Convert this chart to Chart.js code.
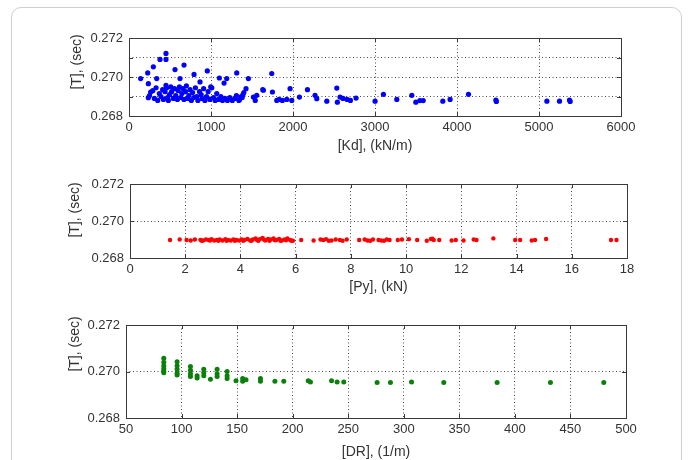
<!DOCTYPE html>
<html>
<head>
<meta charset="utf-8">
<title>Natural period versus damper parameters</title>
<script src="https://cdn.jsdelivr.net/npm/chart.js@4.4.1/dist/chart.umd.min.js"></script>
<style>
  html, body { margin: 0; padding: 0; background: #fff; }
  #wrap { position: relative; width: 693px; height: 460px; overflow: hidden; background: #fff; }
  #frame { position: absolute; left: 11px; top: 7px; width: 671px; height: 490px;
           border: 1px solid #cfcfcf; border-radius: 10px; box-sizing: border-box; }
  canvas { position: absolute; left: 0; }
</style>
</head>
<body>
<div id="wrap">
  <div id="frame"></div>
  <canvas id="kdChart" width="693" height="160" style="top:0px"></canvas>
  <canvas id="pyChart" width="693" height="140" style="top:160px"></canvas>
  <canvas id="drChart" width="693" height="160" style="top:300px"></canvas>
</div>
<script>
// Damper stiffness Kd (kN/m) and the resulting period T (sec)
const kdValues = [
  142, 228, 236, 236, 264, 297, 338, 378, 451, 451, 451, 561, 622, 671, 793, 866, 955, 997,
  1102, 1159, 1192, 1314, 1456, 1427, 1631, 1741, 1749, 1964, 2176, 2534,
  250, 290, 310, 330, 350, 370, 390, 410, 420, 440, 460, 470, 480, 495, 510, 520, 540, 555,
  570, 590, 600, 615, 630, 645, 660, 670, 690, 700, 715, 730, 745, 760, 775, 790, 810, 825,
  840, 860, 880, 890, 910, 925, 945, 965, 985, 1010, 1030, 1050, 1070, 1090, 1120, 1140,
  1170, 1200, 1230, 1260, 1290, 1310, 1340, 1380, 1400, 1350, 1370, 1390,
  1517, 1558, 1540, 1639, 1802, 1830, 1870, 1924, 1985, 2078, 2269, 2290, 2412, 2541,
  2574, 2610, 2660, 2700, 2769,
  3001, 3103, 3266, 3449, 3498, 3547, 3588, 3827, 3916, 4140, 4474, 4480, 5096, 5250, 5372, 5380
];
const kdPeriod = [
  0.26992, 0.27021, 0.26966, 0.26894, 0.26923, 0.27052, 0.26992, 0.27090, 0.27090, 0.27121,
  0.26957, 0.27038, 0.26992, 0.27061, 0.27013, 0.26975, 0.27031, 0.26949,
  0.26995, 0.26969, 0.26992, 0.27021, 0.26992, 0.26940, 0.26935, 0.27018, 0.26923, 0.26940,
  0.26935, 0.26943,
  0.26905, 0.26930, 0.26890, 0.26945, 0.26880, 0.26915, 0.26900, 0.26935, 0.26885, 0.26925,
  0.26945, 0.26895, 0.26880, 0.26910, 0.26950, 0.26925, 0.26890, 0.26940,
  0.26905, 0.26885, 0.26930, 0.26950, 0.26895, 0.26915, 0.26940, 0.26885, 0.26925, 0.26955,
  0.26890, 0.26905, 0.26935, 0.26880, 0.26920, 0.26895, 0.26945, 0.26900,
  0.26880, 0.26925, 0.26910, 0.26890, 0.26940, 0.26880, 0.26900, 0.26925, 0.26885, 0.26945,
  0.26895, 0.26880, 0.26915, 0.26885, 0.26900, 0.26880,
  0.26890, 0.26880, 0.26895, 0.26880, 0.26890, 0.26905, 0.26880, 0.26895, 0.26920, 0.26885,
  0.26900, 0.26910,
  0.26897, 0.26906, 0.26880, 0.26932, 0.26880, 0.26885, 0.26880, 0.26885, 0.26880, 0.26897,
  0.26906, 0.26889, 0.26876, 0.26871,
  0.26897, 0.26890, 0.26885, 0.26880, 0.26892,
  0.26876, 0.26911, 0.26885, 0.26906, 0.26871, 0.26879, 0.26879, 0.26876, 0.26885, 0.26911,
  0.26882, 0.26875, 0.26876, 0.26876, 0.26882, 0.26875
];

// Yield force Py (kN) and period T (sec)
const pyValues = [
  1.45, 1.80, 2.05, 2.20, 2.35, 2.55, 2.65, 2.75, 2.85, 2.95, 3.05, 3.15, 3.25, 3.35, 3.45,
  3.55, 3.65, 3.75, 3.85, 3.95, 4.05, 4.15, 4.25, 4.35, 4.45, 4.55, 4.60, 4.70, 4.80, 4.90,
  5.00, 5.10, 5.20, 5.30, 5.40, 5.50, 5.60, 5.70, 5.80, 5.90, 6.20, 6.65, 6.90, 7.00, 7.10,
  7.30, 7.45, 7.60, 7.85, 8.30, 8.50, 8.60, 8.80, 9.00, 9.10, 9.30, 9.40, 9.70, 9.85, 10.10,
  10.40, 10.75, 10.90, 11.00, 11.20, 11.65, 11.80, 12.08, 12.45, 12.55, 13.16, 13.95, 14.13,
  14.55, 14.67, 15.07, 17.42, 17.62,
  2.60, 2.90, 3.20, 3.50, 3.80, 4.10, 4.40, 4.65, 4.85, 5.05, 5.25, 5.45, 5.65, 5.85, 7.20,
  7.70, 8.70, 9.20, 10.95
];
const pyPeriod = [
  0.26897, 0.26900, 0.26897, 0.26895, 0.26900, 0.26898, 0.26895, 0.26900, 0.26897, 0.26902,
  0.26895, 0.26898, 0.26900, 0.26895, 0.26902, 0.26897, 0.26895, 0.26900, 0.26897, 0.26895,
  0.26900, 0.26897, 0.26903, 0.26895, 0.26900, 0.26906, 0.26897, 0.26902, 0.26908, 0.26895,
  0.26903, 0.26900, 0.26906, 0.26897, 0.26903, 0.26895, 0.26900, 0.26906, 0.26897, 0.26893,
  0.26897, 0.26895, 0.26900, 0.26897, 0.26902, 0.26895, 0.26900, 0.26897, 0.26900, 0.26897,
  0.26900, 0.26895, 0.26900, 0.26897, 0.26895, 0.26900, 0.26897, 0.26897, 0.26900, 0.26902,
  0.26897, 0.26893, 0.26903, 0.26897, 0.26897, 0.26895, 0.26897, 0.26895, 0.26900, 0.26897,
  0.26906, 0.26897, 0.26897, 0.26895, 0.26897, 0.26903, 0.26897, 0.26897,
  0.26893, 0.26895, 0.26893, 0.26893, 0.26893, 0.26893, 0.26893, 0.26893, 0.26900, 0.26893,
  0.26896, 0.26893, 0.26896, 0.26893, 0.26893, 0.26893, 0.26893, 0.26893, 0.26905
];

// Damping ratio DR (1/m) and period T (sec)
const drValues = [
  84, 84, 84, 84, 84, 84,
  96, 96, 96, 96, 96,
  108, 108, 108, 108,
  114, 114, 120, 120, 120, 126,
  132, 132, 132, 141, 141, 141,
  149, 155, 155, 158, 171, 171,
  184, 192, 214, 216, 235, 240, 246,
  276, 288, 307, 336, 384, 432, 480
];
const drPeriod = [
  0.27057, 0.27040, 0.27025, 0.27012, 0.27002, 0.26995,
  0.27042, 0.27025, 0.27010, 0.26992, 0.26985,
  0.27021, 0.27005, 0.26990, 0.26978,
  0.26982, 0.26972, 0.27010, 0.26995, 0.26982, 0.26967,
  0.27010, 0.26990, 0.26978, 0.27000, 0.26982, 0.26970,
  0.26960, 0.26970, 0.26958, 0.26965, 0.26970, 0.26958,
  0.26958, 0.26958, 0.26960, 0.26955, 0.26960, 0.26955, 0.26955,
  0.26953, 0.26953, 0.26955, 0.26953, 0.26953, 0.26953, 0.26953
];

// Tick labels
const kdXLabels = ['0', '1000', '2000', '3000', '4000', '5000', '6000'];
const pyXLabels = ['0', '2', '4', '6', '8', '10', '12', '14', '16', '18'];
const drXLabels = ['50', '100', '150', '200', '250', '300', '350', '400', '450', '500'];
const fineYLabels = ['0.268', '', '0.270', '', '0.272'];
const coarseYLabels = ['0.268', '0.270', '0.272'];

const TEXT = '#333333';
const FONT_FAMILY = "'Liberation Sans', Arial, Helvetica, sans-serif";

// Boxed axes with inward tick marks and axis titles, drawn after the series
const boxedAxes = {
  id: 'boxedAxes',
  afterDraw(chart, args, opts) {
    const { ctx, chartArea: a, scales } = chart;
    const tick = 4;
    ctx.save();
    ctx.strokeStyle = '#3a3a3a';
    ctx.lineWidth = 1;
    ctx.beginPath();
    scales.x.ticks.forEach(t => {
      const px = Math.round(scales.x.getPixelForValue(t.value)) + 0.5;
      ctx.moveTo(px, a.bottom); ctx.lineTo(px, a.bottom - tick);
      ctx.moveTo(px, a.top); ctx.lineTo(px, a.top + tick);
    });
    scales.y.ticks.forEach(t => {
      const py = Math.round(scales.y.getPixelForValue(t.value)) + 0.5;
      ctx.moveTo(a.left, py); ctx.lineTo(a.left + tick, py);
      ctx.moveTo(a.right, py); ctx.lineTo(a.right - tick, py);
    });
    ctx.stroke();
    ctx.strokeRect(Math.round(a.left) + 0.5, Math.round(a.top) + 0.5,
                   Math.round(a.right - a.left), Math.round(a.bottom - a.top));

    ctx.fillStyle = TEXT;
    ctx.font = `${opts.titleSize}px ${FONT_FAMILY}`;
    ctx.textAlign = 'center';
    ctx.textBaseline = 'middle';
    ctx.fillText(opts.xTitle, (a.left + a.right) / 2, opts.xTitleY);
    ctx.translate(opts.yTitleX, opts.yTitleY);
    ctx.rotate(-Math.PI / 2);
    ctx.fillText(opts.yTitle, 0, 0);
    ctx.restore();
  }
};

function gridColor(scaleMin, scaleMax) {
  return c => {
    if (!c.tick) return 'transparent';
    const v = c.tick.value;
    const eps = (scaleMax - scaleMin) * 1e-6;
    return (Math.abs(v - scaleMin) < eps || Math.abs(v - scaleMax) < eps) ? 'transparent' : '#4a4a4a';
  };
}

function makePlot(id, xs, ys, color, radius, xAxis, yAxis, box, titles) {
  const points = xs.map((v, i) => ({ x: v, y: ys[i] }));
  return new Chart(document.getElementById(id), {
    type: 'scatter',
    data: {
      datasets: [{
        data: points,
        backgroundColor: color,
        borderColor: color,
        borderWidth: 0,
        pointRadius: radius,
        pointHoverRadius: radius
      }]
    },
    options: {
      responsive: false,
      animation: false,
      devicePixelRatio: 1,
      events: [],
      layout: { padding: { left: 0, right: box.right, top: box.top, bottom: 0 } },
      plugins: {
        legend: { display: false },
        tooltip: { enabled: false },
        boxedAxes: titles
      },
      scales: {
        x: {
          type: 'linear',
          min: xAxis.min, max: xAxis.max,
          ticks: {
            stepSize: xAxis.step, autoSkip: false, maxRotation: 0, padding: 4,
            color: TEXT, font: { family: FONT_FAMILY, size: 13 },
            callback: (v, i) => xAxis.labels[i]
          },
          grid: { drawTicks: false, color: gridColor(xAxis.min, xAxis.max), lineWidth: 1 },
          border: { display: false, dash: [1, 2.5] },
          afterFit(s) { s.height = box.xHeight; }
        },
        y: {
          type: 'linear',
          min: 0.268, max: 0.272,
          ticks: {
            stepSize: yAxis.step, autoSkip: false, padding: 6,
            color: TEXT, font: { family: FONT_FAMILY, size: 13 },
            callback: (v, i) => yAxis.labels[i]
          },
          grid: { drawTicks: false, color: gridColor(0.268, 0.272), lineWidth: 1 },
          border: { display: false, dash: [1, 2.5] },
          afterFit(s) { s.width = box.left; }
        }
      }
    },
    plugins: [boxedAxes]
  });
}

makePlot('kdChart', kdValues, kdPeriod, '#0000ff', 2.6,
  { min: 0, max: 6000, step: 1000, labels: kdXLabels },
  { step: 0.001, labels: fineYLabels },
  { left: 129, right: 72, top: 38, xHeight: 44 },
  { xTitle: '[Kd], (kN/m)', xTitleY: 146, yTitle: '[T], (sec)', yTitleX: 77, yTitleY: 62, titleSize: 14 });

makePlot('pyChart', pyValues, pyPeriod, '#ff0000', 2.2,
  { min: 0, max: 18, step: 2, labels: pyXLabels },
  { step: 0.002, labels: coarseYLabels },
  { left: 130, right: 66, top: 24, xHeight: 42 },
  { xTitle: '[Py], (kN)', xTitleY: 127, yTitle: '[T], (sec)', yTitleX: 75, yTitleY: 50, titleSize: 14 });

makePlot('drChart', drValues, drPeriod, '#0a800a', 2.5,
  { min: 50, max: 500, step: 50, labels: drXLabels },
  { step: 0.002, labels: coarseYLabels },
  { left: 126, right: 67, top: 25, xHeight: 42 },
  { xTitle: '[DR], (1/m)', xTitleY: 152, yTitle: '[T], (sec)', yTitleX: 75, yTitleY: 44, titleSize: 14 });
</script>
</body>
</html>
